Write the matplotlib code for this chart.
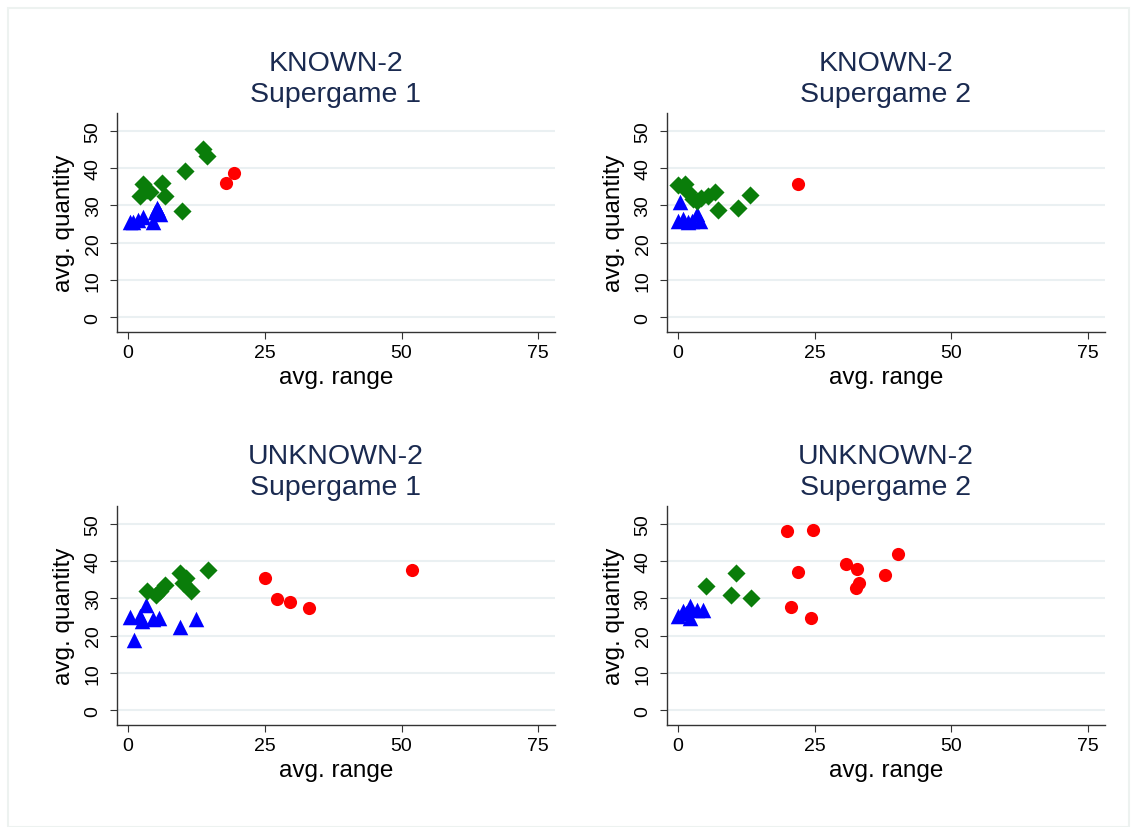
import matplotlib
matplotlib.use("Agg")
import matplotlib.pyplot as plt
from matplotlib.patches import Rectangle

plt.rcParams['font.family'] = ['Liberation Sans', 'DejaVu Sans']

titles = ["KNOWN-2\nSupergame 1", "KNOWN-2\nSupergame 2",
          "UNKNOWN-2\nSupergame 1", "UNKNOWN-2\nSupergame 2"]

# (avg. range, avg. quantity) per group
k1_blue_x = [0.3, 1.0, 1.8, 2.8, 4.5, 4.9, 5.3, 5.8, 5.5]
k1_blue_y = [25.5, 25.6, 26.0, 26.8, 25.5, 28.2, 29.4, 27.8, 28.8]
k1_green_x = [13.8, 14.4, 10.5, 6.2, 2.8, 3.4, 2.2, 4.0, 6.8, 9.8]
k1_green_y = [45.2, 43.3, 39.1, 36.0, 35.8, 34.0, 32.6, 33.5, 32.4, 28.6]
k1_red_x = [19.3, 18.0]
k1_red_y = [38.6, 35.9]

k2_blue_x = [0.4, 0.1, 1.0, 1.8, 2.5, 3.4, 4.0]
k2_blue_y = [30.8, 25.9, 26.3, 25.5, 25.9, 27.7, 25.9]
k2_green_x = [13.2, 11.0, 7.4, 6.8, 5.5, 4.3, 2.8, 1.9, 1.3, 0.1, 3.5]
k2_green_y = [32.8, 29.3, 28.8, 33.5, 32.6, 31.9, 31.7, 33.5, 35.8, 35.5, 31.2]
k2_red_x = [22.0]
k2_red_y = [35.8]

u1_blue_x = [3.3, 0.4, 2.2, 2.5, 4.6, 5.7, 9.6, 12.4, 1.1]
u1_blue_y = [28.1, 24.9, 25.2, 24.0, 24.5, 24.7, 22.2, 24.5, 18.9]
u1_green_x = [14.6, 9.5, 10.7, 10.1, 11.6, 6.8, 5.9, 5.2, 3.4]
u1_green_y = [37.7, 36.8, 35.5, 34.1, 31.9, 33.7, 31.9, 31.0, 32.1]
u1_red_x = [25.0, 27.3, 29.7, 33.0, 52.0]
u1_red_y = [35.5, 29.9, 28.9, 27.4, 37.7]

u2_blue_x = [0.1, 1.0, 1.5, 2.2, 2.2, 3.4, 4.6]
u2_blue_y = [25.2, 26.5, 26.0, 27.9, 24.7, 27.0, 27.0]
u2_green_x = [10.6, 5.1, 9.7, 13.3]
u2_green_y = [36.8, 33.2, 30.8, 30.1]
u2_red_x = [20.0, 24.7, 40.3, 30.7, 32.8, 21.9, 37.8, 33.1, 32.5, 20.7, 24.3]
u2_red_y = [48.0, 48.3, 41.9, 39.2, 38.0, 37.1, 36.4, 34.1, 32.8, 27.6, 24.7]

panels = [
    (k1_blue_x, k1_blue_y, k1_green_x, k1_green_y, k1_red_x, k1_red_y),
    (k2_blue_x, k2_blue_y, k2_green_x, k2_green_y, k2_red_x, k2_red_y),
    (u1_blue_x, u1_blue_y, u1_green_x, u1_green_y, u1_red_x, u1_red_y),
    (u2_blue_x, u2_blue_y, u2_green_x, u2_green_y, u2_red_x, u2_red_y),
]

fig = plt.figure(figsize=(11.37, 8.28), dpi=100)
fig.patches.append(Rectangle((8 / 1137, 0), 1 - 16 / 1137, 1 - 9 / 828,
                             transform=fig.transFigure, fill=False,
                             edgecolor="#edf2f0", lw=1.5))

lefts = [0.1029, 0.5866]
bottoms = [0.5978, 0.1232]
w, h = 0.385, 0.2645

for i, (bx, by, gx, gy, rx, ry) in enumerate(panels):
    ax = fig.add_axes([lefts[i % 2], bottoms[i // 2], w, h])
    ax.scatter(bx, by, marker="^", s=125, color="#0000ff", lw=0, zorder=3)
    ax.scatter(gx, gy, marker="D", s=85, color="#0a7d0a", lw=0, zorder=3)
    ax.scatter(rx, ry, marker="o", s=90, color="#ff0000", lw=0, zorder=3)
    ax.set_xlim(-2, 78)
    ax.set_ylim(-4, 54.8)
    ax.set_xticks([0, 25, 50, 75])
    ax.set_yticks([0, 10, 20, 30, 40, 50])
    ax.grid(axis="y", color="#eaf0f2", lw=1.5)
    ax.set_axisbelow(True)
    for s in ["top", "right"]:
        ax.spines[s].set_visible(False)
    for s in ["left", "bottom"]:
        ax.spines[s].set_color("#333333")
        ax.spines[s].set_linewidth(1.0)
    ax.tick_params(axis="both", labelsize=14, length=5, color="#333333")
    ax.tick_params(axis="y", pad=6)
    plt.setp(ax.get_yticklabels(), rotation=90, va="center")
    ax.set_xlabel("avg. range", fontsize=17.5, labelpad=4)
    ax.set_ylabel("avg. quantity", fontsize=17.5, labelpad=7)
    ax.set_title(titles[i], fontsize=20.5, color="#1a2a50", linespacing=1.25, pad=8.5)

fig.savefig("out.png", dpi=100, facecolor="white")
